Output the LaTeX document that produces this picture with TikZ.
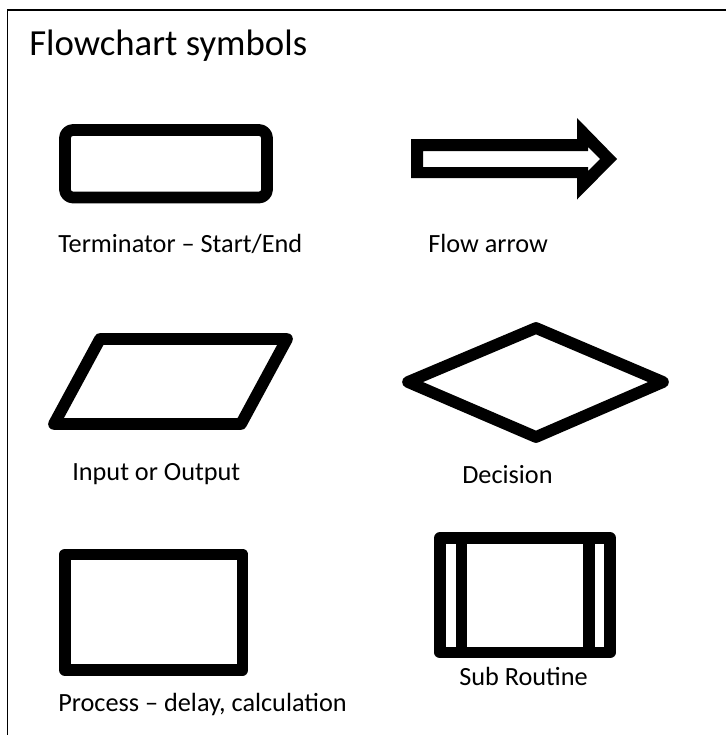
\documentclass[tikz,border=0pt]{standalone}
\usepackage{fontspec}
\setmainfont{Carlito}
\begin{document}
\begin{tikzpicture}[x=0.75pt,y=-0.75pt,
  lbl/.style={anchor=base west,inner sep=0pt,font=\fontsize{19.7pt}{22pt}\selectfont},
  ttl/.style={anchor=base west,inner sep=0pt,font=\fontsize{27.6pt}{32pt}\selectfont},
  sym/.style={draw=black,line width=8.8pt,line join=round}]
\useasboundingbox (0,0) rectangle (725,735);
\fill[white] (0,0) rectangle (725,735);
% frame (top and left only visible)
\draw[line width=1.1pt] (7.5,760) -- (7.5,10) -- (760,10);
\node[ttl] (title) at (29,56) {Flowchart symbols};
% terminator
\draw[sym,rounded corners=6pt] (65,130) rectangle (267,197.5);
\node[lbl] (lterm) at (58,252) {Terminator – Start/End};
% flow arrow
\fill[even odd rule] (411,139) -- (577,139) -- (577,118) -- (617,159) -- (577,199.5) -- (577,178) -- (411,178) -- cycle
  (423,151) -- (588,151) -- (588,147) -- (600,159) -- (588,171) -- (588,167) -- (423,167) -- cycle;
\node[lbl] (lflow) at (428,252) {Flow arrow};
% input/output
\draw[sym] (100,339) -- (287,339) -- (241,424) -- (54,424) -- cycle;
\node[lbl] (lio) at (72,480) {Input or Output};
% decision
\draw[sym] (536,328) -- (663,382) -- (536,437) -- (408,382) -- cycle;
\node[lbl] (ldec) at (462,483) {Decision};
% process
\draw[sym] (65,554.5) rectangle (242.5,670);
\node[lbl] (lproc) at (58,711) {Process – delay, calculation};
% sub routine
\draw[sym] (440,538) rectangle (610,652.5);
\draw[line width=8.4pt] (461.5,538) -- (461.5,652.5);
\draw[line width=8.4pt] (589,538) -- (589,652.5);
\node[lbl] (lsub) at (459,685) {Sub Routine};
\end{tikzpicture}
\end{document}
